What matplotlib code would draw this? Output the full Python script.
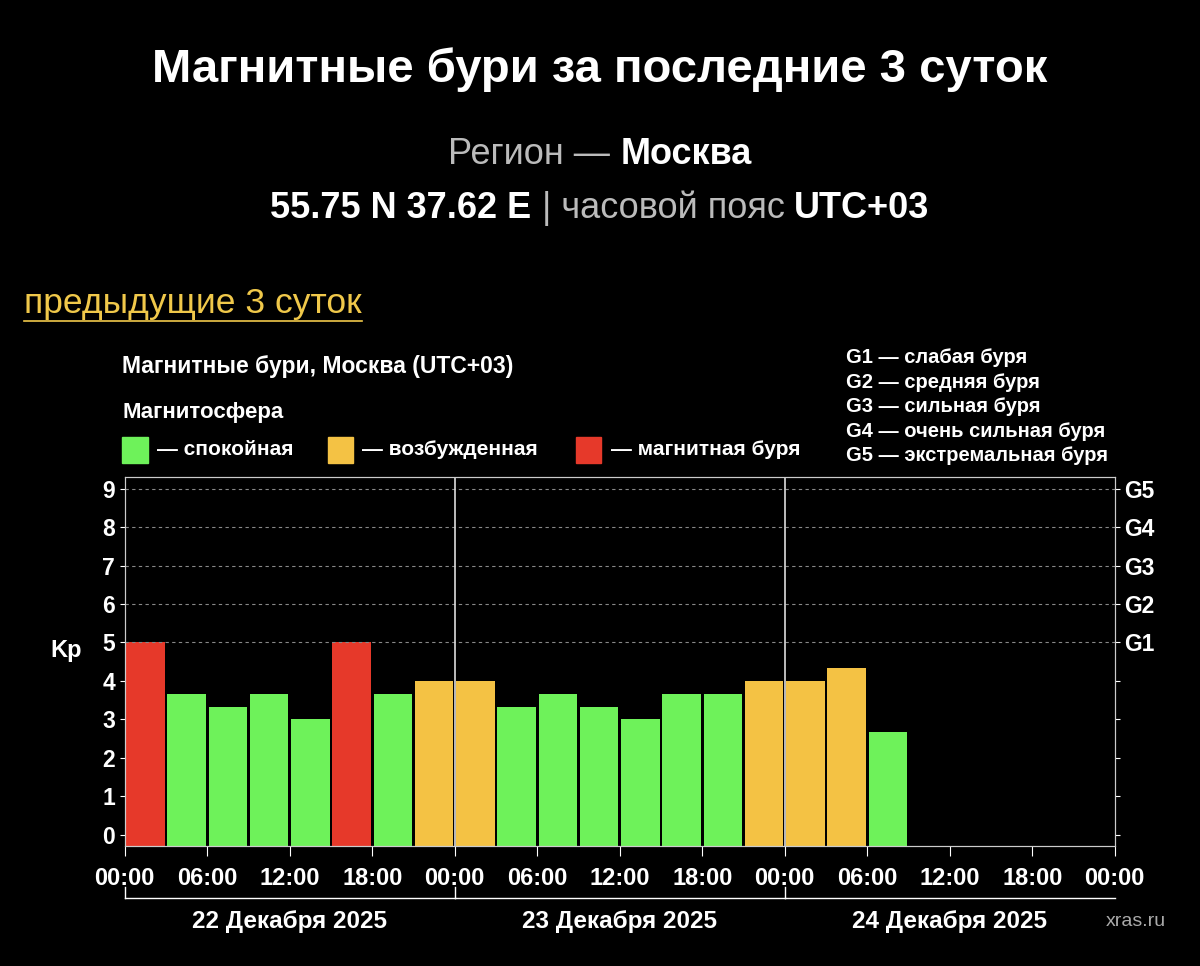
import matplotlib.pyplot as plt
import numpy as np

kp = [5, 3.67, 3.33, 3.67, 3, 5, 3.67, 4,
      4, 3.33, 3.67, 3.33, 3, 3.67, 3.67, 4,
      4, 4.33, 2.67]
status = ['s', 'q', 'q', 'q', 'q', 's', 'q', 'a',
          'a', 'q', 'q', 'q', 'q', 'q', 'q', 'a',
          'a', 'a', 'q']
colors = {'q': '#6ef25a', 'a': '#f4c244', 's': '#e6392a'}
xticklabels = ['00:00', '06:00', '12:00', '18:00'] * 3 + ['00:00']
days = ['22 Декабря 2025', '23 Декабря 2025', '24 Декабря 2025']
glabels = ['G1', 'G2', 'G3', 'G4', 'G5']
glegend = ['G1 — слабая буря', 'G2 — средняя буря', 'G3 — сильная буря',
           'G4 — очень сильная буря', 'G5 — экстремальная буря']

plt.rcParams['font.family'] = ['Liberation Sans', 'DejaVu Sans']
fig = plt.figure(figsize=(12, 9.66), dpi=100, facecolor='black')
renderer = fig.canvas.get_renderer()


def centered_line(parts, y, size):
    # parts: (text, colour, weight); laid out one after another, centred as a whole
    texts = [fig.text(0, y, s, color=c, fontsize=size, fontweight=w, va='center') for s, c, w in parts]
    widths = [t.get_window_extent(renderer).width / fig.bbox.width for t in texts]
    x = 0.5 - sum(widths) / 2
    for t, w in zip(texts, widths):
        t.set_x(x)
        x += w


fig.text(0.5, 0.928, 'Магнитные бури за последние 3 суток', color='white',
         fontsize=34, fontweight='bold', ha='center', va='center')
centered_line([('Регион — ', '#bbbbbb', 'normal'), ('Москва', 'white', 'bold')], 0.840, 26)
centered_line([('55.75 N 37.62 E ', 'white', 'bold'), ('| часовой пояс ', '#bbbbbb', 'normal'),
               ('UTC+03', 'white', 'bold')], 0.784, 26)
fig.text(0.02, 0.686, 'предыдущие 3 суток', color='#f0c84a', fontsize=25.5, ha='left', va='center')
fig.add_artist(plt.Line2D([0.02, 0.302], [0.668, 0.668], color='#f0c84a', lw=1.2))

fig.text(0.102, 0.621, 'Магнитные бури, Москва (UTC+03)', color='white', fontsize=16.5, fontweight='bold', va='center')
fig.text(0.102, 0.573, 'Магнитосфера', color='white', fontsize=16, fontweight='bold', va='center')
for x, c, lab in [(0.102, 'q', '— спокойная'), (0.273, 'a', '— возбужденная'), (0.480, 's', '— магнитная буря')]:
    fig.add_artist(plt.Rectangle((x, 0.521), 0.021, 0.027, color=colors[c], transform=fig.transFigure))
    fig.text(x + 0.029, 0.535, lab, color='white', fontsize=15, fontweight='bold', va='center')
for i, g in enumerate(glegend):
    fig.text(0.705, 0.630 - i * 0.0255, g, color='white', fontsize=14.5, fontweight='bold', va='center')

ax = fig.add_axes([0.104, 0.124, 0.825, 0.382])
ax.set_facecolor('black')
x = np.arange(len(kp)) * 3 + 1.5
ax.bar(x, np.array(kp) + 0.3, bottom=-0.3, width=2.8,
       color=[colors[s] for s in status])
ax.set_xlim(0, 72)
ax.set_ylim(-0.3, 9.3)
for y in range(5, 10):
    ax.axhline(y, color='#888888', lw=0.8, ls=(0, (3, 3)))
for d in (24, 48):
    ax.axvline(d, color='#dddddd', lw=1.2)
for s in ax.spines.values():
    s.set_color('#cccccc')
ax.set_yticks(range(10))
ax.tick_params(colors='white', labelsize=16.5)
for lab in ax.get_yticklabels():
    lab.set_fontweight('bold')
ax.set_xticks(range(0, 73, 6))
ax.set_xticklabels(xticklabels, fontweight='bold', fontsize=17)
ax.tick_params(axis='x', length=7, pad=8)
ax.set_ylabel('Kp', color='white', fontsize=17, fontweight='bold', rotation=0, labelpad=26)

ax2 = ax.twinx()
ax2.set_ylim(-0.3, 9.3)
ax2.set_yticks(range(10))
ax2.set_yticklabels([''] * 5 + glabels, fontweight='bold')
ax2.tick_params(colors='white', labelsize=16.5)
for s in ax2.spines.values():
    s.set_color('#cccccc')

# day brackets
yb = -0.14
for i, d in enumerate(days):
    ax.plot([i * 24, (i + 1) * 24], [yb, yb], color='white', lw=1, transform=ax.get_xaxis_transform(), clip_on=False)
    ax.plot([i * 24, i * 24], [yb, yb + 0.03], color='white', lw=1, transform=ax.get_xaxis_transform(), clip_on=False)
    ax.text(i * 24 + 12, -0.205, d, color='white', fontsize=17.5, fontweight='bold', ha='center', va='center',
            transform=ax.get_xaxis_transform())
fig.text(0.972, 0.046, 'xras.ru', color='#aaaaaa', fontsize=14, ha='right', va='center')

fig.savefig('out.png', facecolor='black')
